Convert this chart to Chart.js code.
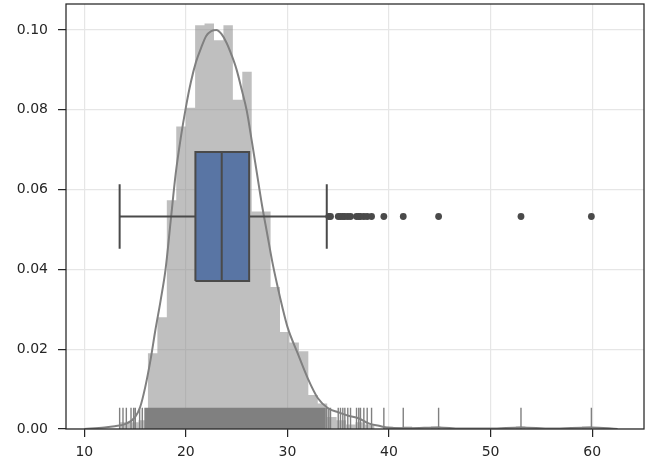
<!DOCTYPE html>
<html>
<head>
<meta charset="utf-8">
<script src="https://cdn.jsdelivr.net/npm/chart.js@4.4.0/dist/chart.umd.min.js"></script>
<style>
  html, body { margin: 0; padding: 0; background: #fff; }
  #wrap { width: 649px; height: 469px; }
</style>
</head>
<body>
<div id="wrap"><canvas id="chart" width="649" height="469"></canvas></div>
<script>
// histogram (density), 50 bins from 13.48 to 59.92
const binEdges = [
  13.480, 14.409, 15.338, 16.266, 17.195, 18.124, 19.053, 19.982, 20.910, 21.839,
  22.768, 23.697, 24.626, 25.554, 26.483, 27.412, 28.341, 29.270, 30.198, 31.127,
  32.056, 32.985, 33.914, 34.842, 35.771, 36.700, 37.629, 38.558, 39.486, 40.415,
  41.344, 42.273, 43.202, 44.130, 45.059, 45.988, 46.917, 47.846, 48.774, 49.703,
  50.632, 51.561, 52.490, 53.418, 54.347, 55.276, 56.205, 57.134, 58.062, 58.991,
  59.920
]
const binDensity = [
  0.0017, 0.0017, 0.0022, 0.019, 0.028, 0.0573, 0.0758, 0.0805, 0.1012, 0.1016,
  0.0974, 0.1012, 0.0825, 0.0895, 0.0545, 0.0545, 0.0356, 0.0243, 0.0217, 0.0195,
  0.0085, 0.0064, 0.003, 0.0022, 0.0011, 0.0017, 0.0011, 0, 0.0006, 0,
  0.0006, 0, 0, 0.0006, 0, 0, 0, 0, 0, 0,
  0, 0, 0.0006, 0, 0, 0, 0, 0, 0, 0.0006
]

// kde curve
const kdeX = [10, 12, 13, 14, 15, 15.5, 16, 16.5, 17, 17.5, 18, 18.5, 19, 19.5, 20, 20.5,
  21, 21.5, 22, 22.5, 23, 23.5, 24, 24.5, 25, 25.5, 26, 26.5, 27, 27.5, 28, 28.5, 29,
  29.5, 30, 31, 32, 33, 34, 35, 36, 37, 38, 39, 40, 42, 44.9, 47, 50, 53, 56, 59.9, 62.5]
const kdeY = [0, 0.0004, 0.0007, 0.0012, 0.003, 0.0055, 0.0105, 0.017, 0.0248, 0.032,
  0.040, 0.052, 0.064, 0.073, 0.0806, 0.087, 0.092, 0.0955, 0.0985, 0.0997, 0.1000,
  0.099, 0.0968, 0.0937, 0.090, 0.085, 0.0797, 0.072, 0.064, 0.056, 0.049, 0.042,
  0.036, 0.0305, 0.0256, 0.019, 0.0127, 0.0077, 0.0052, 0.0042, 0.0033, 0.0027,
  0.0014, 0.0008, 0.0003, 0.0002, 0.0004, 0.0001, 0.0001, 0.0004, 0.0001, 0.0004, 0]

// box plot
const whiskerLow = 13.48
const q1 = 20.94
const median = 23.53
const q3 = 26.23
const whiskerHigh = 33.87
const outliers = [34.07, 34.24, 35.0, 35.22, 35.45, 35.65, 35.94, 36.21, 36.8, 37.02,
  37.19, 37.52, 37.85, 38.28, 39.49, 41.4, 44.88, 52.99, 59.92]

// rug
const rugLeft = [13.48, 13.81, 14.14, 14.6, 14.86, 15.02, 15.45, 15.71, 15.98]
const rugDense = [
  16.1, 16.2, 16.3, 16.4, 16.5, 16.6, 16.7, 16.8, 16.9,
  17.0, 17.1, 17.2, 17.3, 17.4, 17.5, 17.6, 17.7, 17.8, 17.9,
  18.0, 18.1, 18.2, 18.3, 18.4, 18.5, 18.6, 18.7, 18.8, 18.9,
  19.0, 19.1, 19.2, 19.3, 19.4, 19.5, 19.6, 19.7, 19.8, 19.9,
  20.0, 20.1, 20.2, 20.3, 20.4, 20.5, 20.6, 20.7, 20.8, 20.9,
  21.0, 21.1, 21.2, 21.3, 21.4, 21.5, 21.6, 21.7, 21.8, 21.9,
  22.0, 22.1, 22.2, 22.3, 22.4, 22.5, 22.6, 22.7, 22.8, 22.9,
  23.0, 23.1, 23.2, 23.3, 23.4, 23.5, 23.6, 23.7, 23.8, 23.9,
  24.0, 24.1, 24.2, 24.3, 24.4, 24.5, 24.6, 24.7, 24.8, 24.9,
  25.0, 25.1, 25.2, 25.3, 25.4, 25.5, 25.6, 25.7, 25.8, 25.9,
  26.0, 26.1, 26.2, 26.3, 26.4, 26.5, 26.6, 26.7, 26.8, 26.9,
  27.0, 27.1, 27.2, 27.3, 27.4, 27.5, 27.6, 27.7, 27.8, 27.9,
  28.0, 28.1, 28.2, 28.3, 28.4, 28.5, 28.6, 28.7, 28.8, 28.9,
  29.0, 29.1, 29.2, 29.3, 29.4, 29.5, 29.6, 29.7, 29.8, 29.9,
  30.0, 30.1, 30.2, 30.3, 30.4, 30.5, 30.6, 30.7, 30.8, 30.9,
  31.0, 31.1, 31.2, 31.3, 31.4, 31.5, 31.6, 31.7, 31.8, 31.9,
  32.0, 32.1, 32.2, 32.3, 32.4, 32.5, 32.6, 32.7, 32.8, 32.9,
  33.0, 33.1, 33.2, 33.3, 33.4, 33.5, 33.6, 33.7, 33.87
]
const rugTicks = rugLeft.concat(rugDense, outliers)

// axis ticks
const xTickValues = [10, 20, 30, 40, 50, 60]
const yTickValues = [0, 0.02, 0.04, 0.06, 0.08, 0.10]

const boxHalf = 0.4
const capHalf = 0.2
const rugHeight = 0.05
const lineGray = '#4a4a4a'

const gap = (x) => ({x: x, y: null})

// histogram outline: one step per bin, last edge closes the final bin
const histPoints = binEdges.map((e, i) => ({x: e, y: binDensity[Math.min(i, binDensity.length - 1)]}))

const whiskerPoints = [
  {x: whiskerLow, y: -capHalf}, {x: whiskerLow, y: capHalf}, gap(whiskerLow),
  {x: whiskerLow, y: 0}, {x: q1, y: 0}, gap(q1),
  {x: q3, y: 0}, {x: whiskerHigh, y: 0}, gap(whiskerHigh),
  {x: whiskerHigh, y: -capHalf}, {x: whiskerHigh, y: capHalf}, gap(whiskerHigh),
  {x: median, y: -boxHalf}, {x: median, y: boxHalf}
]

const rugPoints = []
rugTicks.forEach(v => {
  rugPoints.push({x: v, y: 0}, {x: v, y: rugHeight}, gap(v))
})

const frame = {
  id: 'frame',
  afterDatasetsDraw(chart) {
    const {ctx, chartArea: a} = chart
    ctx.save()
    ctx.strokeStyle = '#262626'
    ctx.lineWidth = 1.25
    ctx.strokeRect(a.left, a.top, a.right - a.left, a.bottom - a.top)
    ctx.restore()
  }
}

const tickFont = {family: 'DejaVu Sans', size: 14}

new Chart(document.getElementById('chart'), {
  type: 'line',
  data: {
    datasets: [
      {
        data: histPoints,
        stepped: 'before',
        borderWidth: 0,
        pointRadius: 0,
        backgroundColor: 'rgba(128,128,128,0.5)',
        fill: 'origin',
        order: 6
      },
      {
        yAxisID: 'yRug',
        data: rugPoints,
        borderColor: '#808080',
        borderWidth: 1.4,
        pointRadius: 0,
        fill: false,
        order: 5
      },
      {
        data: kdeX.map((x, i) => ({x: x, y: kdeY[i]})),
        borderColor: '#808080',
        borderWidth: 2,
        pointRadius: 0,
        cubicInterpolationMode: 'monotone',
        fill: false,
        order: 4
      },
      {
        yAxisID: 'yBox',
        data: [{x: q1, y: boxHalf}, {x: q3, y: boxHalf}],
        borderWidth: 0,
        pointRadius: 0,
        backgroundColor: '#5975a4',
        fill: {value: -boxHalf},
        order: 3
      },
      {
        yAxisID: 'yBox',
        data: [{x: q1, y: -boxHalf}, {x: q1, y: boxHalf}, {x: q3, y: boxHalf},
               {x: q3, y: -boxHalf}, {x: q1, y: -boxHalf}],
        borderColor: lineGray,
        borderWidth: 2,
        borderJoinStyle: 'miter',
        pointRadius: 0,
        fill: false,
        order: 2
      },
      {
        yAxisID: 'yBox',
        data: whiskerPoints,
        borderColor: lineGray,
        borderWidth: 2,
        pointRadius: 0,
        fill: false,
        order: 2
      },
      {
        type: 'scatter',
        yAxisID: 'yBox',
        data: outliers.map(v => ({x: v, y: 0})),
        backgroundColor: lineGray,
        borderWidth: 0,
        pointRadius: 3.4,
        order: 1
      }
    ]
  },
  options: {
    responsive: false,
    animation: false,
    layout: {padding: {top: 3, right: 5, left: 0, bottom: 0}},
    plugins: {legend: {display: false}, tooltip: {enabled: false}},
    scales: {
      x: {
        type: 'linear',
        min: 8.2,
        max: 65.1,
        offset: false,
        afterBuildTicks: s => { s.ticks = xTickValues.map(v => ({value: v})) },
        afterFit: s => { s.height = 40; s.paddingLeft = 0; s.paddingRight = 0 },
        grid: {offset: false, color: '#e6e6e6', lineWidth: 1.2, tickLength: 8, tickColor: '#262626', tickWidth: 1.25},
        border: {display: false},
        ticks: {font: tickFont, color: '#262626', padding: 7, maxRotation: 0}
      },
      y: {
        type: 'linear',
        min: 0,
        max: 0.1065,
        afterBuildTicks: s => { s.ticks = yTickValues.map(v => ({value: v})) },
        afterFit: s => { s.width = 66; s.paddingTop = 0; s.paddingBottom = 0 },
        grid: {color: '#e6e6e6', lineWidth: 1.2, tickLength: 8, tickColor: '#262626', tickWidth: 1.25},
        border: {display: false},
        ticks: {font: tickFont, color: '#262626', padding: 10, callback: v => v.toFixed(2)}
      },
      yBox: {type: 'linear', display: false, min: -1.32, max: 1.32},
      yRug: {type: 'linear', display: false, min: 0, max: 1}
    }
  },
  plugins: [frame]
})
</script>
</body>
</html>
